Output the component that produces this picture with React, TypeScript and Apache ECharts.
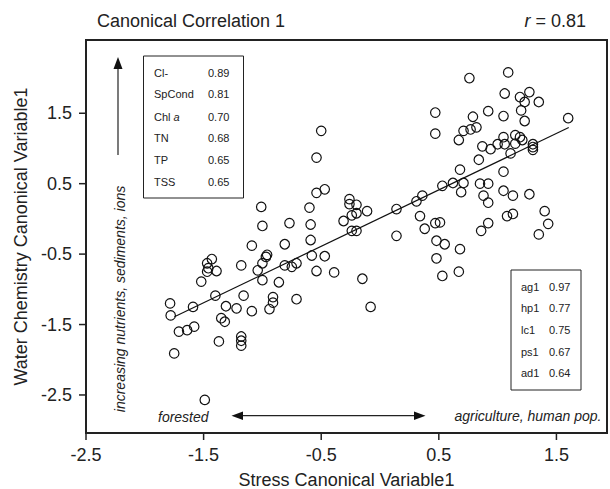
import React, { useEffect, useRef } from "react";
import * as echarts from "echarts";

// Site scores: stress canonical variable 1 (x) and water chemistry canonical variable 1 (y)
const stressScores = [
  -1.785, -1.78, -1.71, -1.64, -1.58, -1.59, -1.75, -1.49, -1.52, -1.47, -1.46, -1.43, -1.47, -1.39, -1.4,
  -1.37, -1.35, -1.32, -1.31, -1.22, -1.18, -1.18, -1.18, -1.18, -1.16, -1.09, -1.09, -1.04, -1.01, -1.0,
  -1.0, -0.97, -0.96, -1.0, -0.91, -0.91, -0.94, -0.86, -0.81, -0.77, -0.81, -0.75, -0.71, -0.71,
  0.76, 1.09, 1.06, 1.19, 1.27, 1.23, 1.35, 1.2, 1.23, 1.05, 0.92, 0.79, 0.47, 0.47, 0.71, 0.77, 0.82, 0.67,
  1.6, 0.87, 0.94, 1.0, 1.05, 1.06, 1.15, 1.15, 1.19, 1.21, 1.3, 1.3, 1.3, 1.11, 0.84, 0.68, 1.05, 0.53,
  0.62, 0.71, 0.69, 0.85, 0.92, 0.88, 0.92, 1.05, 1.13, 1.27, 1.08, 1.13, 1.4, 1.43, 1.35, 0.92, 0.86,
  0.68, 0.67, 0.53, 0.48, 0.48, 0.55, 0.47, 0.51, 0.34, 0.38, 0.31, 0.36, 0.14, 0.14, -0.11, -0.2, -0.26,
  -0.26, -0.2, -0.24, -0.31, -0.24, -0.2, -0.47, -0.54, -0.5, -0.54, -0.6, -0.59, -0.59, -0.58, -0.47,
  -0.54, -0.39, -0.15, -0.08,
];
const waterScores = [
  -1.2, -1.37, -1.6, -1.58, -1.53, -1.25, -1.91, -2.57, -0.89, -0.63, -0.7, -0.57, -0.75, -0.74, -1.09,
  -1.74, -1.41, -1.46, -1.24, -1.27, -0.66, -1.67, -1.73, -1.8, -1.09, -1.31, -0.38, -0.73, 0.17, -0.1,
  -0.63, -0.54, -0.51, -0.87, -1.11, -1.19, -1.28, -0.9, -0.36, -0.06, -0.66, -0.68, -0.63, -1.14,
  2.0, 2.08, 1.78, 1.73, 1.8, 1.66, 1.66, 1.54, 1.39, 1.46, 1.53, 1.45, 1.51, 1.21, 1.25, 1.27, 1.3, 1.12,
  1.43, 1.03, 0.99, 1.06, 1.16, 1.06, 1.19, 1.07, 1.16, 1.12, 1.06, 1.02, 0.98, 0.93, 0.84, 0.7, 0.67, 0.47,
  0.51, 0.51, 0.38, 0.5, 0.5, 0.33, 0.23, 0.4, 0.33, 0.35, 0.04, 0.07, 0.11, -0.07, -0.22, -0.06, -0.17,
  -0.43, -0.75, -0.81, -0.56, -0.31, -0.36, -0.06, -0.05, 0.04, -0.14, 0.25, 0.33, 0.14, -0.24, 0.11, 0.2, 0.28,
  0.21, 0.08, 0.05, -0.03, -0.17, -0.17, 0.42, 0.37, 1.25, 0.87, 0.16, -0.08, -0.3, -0.52, -0.53,
  -0.74, -0.76, -0.85, -1.25,
];

// Fitted regression line end points
const fitX = [-1.748, 1.605];
const fitY = [-1.389, 1.297];

// Axis extents and tick labels
const xRange = [-2.5, 1.93];
const yRange = [-3.04, 2.54];
const xTicks = [-2.5, -1.5, -0.5, 0.5, 1.5];
const yTicks = [-2.5, -1.5, -0.5, 0.5, 1.5];

// Loadings
const waterVars = ["Cl-", "SpCond", "{n|Chl }{i|a}", "TN", "TP", "TSS"];
const waterLoadings = ["0.89", "0.81", "0.70", "0.68", "0.65", "0.65"];
const stressVars = ["ag1", "hp1", "lc1", "ps1", "ad1"];
const stressLoadings = ["0.97", "0.77", "0.75", "0.67", "0.64"];

const FONT = "'Liberation Sans', Arial, Helvetica, sans-serif";
const INK = "#222";

export default function App() {
  const ref = useRef<HTMLDivElement>(null);

  useEffect(() => {
    if (!ref.current) return;
    const chart = echarts.init(ref.current, undefined, { renderer: "svg" });

    const points = stressScores.map((x, i) => [x, waterScores[i]]);
    const fit = fitX.map((x, i) => [x, fitY[i]]);

    const boxText = (text: string, x: number, y: number) => ({
      type: "text",
      x,
      y,
      silent: true,
      style: {
        text,
        fontSize: 11,
        fontFamily: FONT,
        fill: INK,
        verticalAlign: "middle",
        align: "left",
        rich: {
          n: { fontSize: 11, fontFamily: FONT, fill: INK },
          i: { fontSize: 11, fontFamily: FONT, fill: INK, fontStyle: "italic" },
        },
      },
    });

    const box1Rows = [72.7, 94.3, 116.5, 138.3, 160, 181.7];
    const box2Rows = [286.7, 308.3, 330, 351.7, 373.3];

    const graphics: any[] = [
      {
        type: "text",
        x: 97,
        y: 21,
        style: { text: "Canonical Correlation 1", fontSize: 18, fontFamily: FONT, fill: INK, verticalAlign: "middle", align: "left" },
      },
      {
        type: "text",
        x: 586,
        y: 21,
        style: {
          text: "{i|r} = 0.81",
          fontSize: 18,
          fontFamily: FONT,
          fill: INK,
          verticalAlign: "middle",
          align: "right",
          rich: {
            i: { fontSize: 18, fontFamily: FONT, fill: INK, fontStyle: "italic" },
          },
        },
      },
      // box 1
      { type: "rect", shape: { x: 143.5, y: 56, width: 100, height: 142 }, style: { fill: "none", stroke: INK, lineWidth: 1 } },
      ...waterVars.map((t, i) => boxText(t, 154, box1Rows[i])),
      ...waterLoadings.map((t, i) => boxText(t, 208, box1Rows[i])),
      // box 2
      { type: "rect", shape: { x: 511, y: 270, width: 70, height: 120 }, style: { fill: "none", stroke: INK, lineWidth: 1 } },
      ...stressVars.map((t, i) => boxText(t, 521, box2Rows[i])),
      ...stressLoadings.map((t, i) => boxText(t, 549, box2Rows[i])),
      // vertical arrow
      { type: "line", shape: { x1: 118, y1: 155, x2: 118, y2: 66 }, style: { stroke: INK, lineWidth: 1.2 } },
      { type: "polygon", shape: { points: [[118, 57], [113.5, 69], [122.5, 69]] }, style: { fill: "#111" } },
      {
        type: "text",
        x: 120,
        y: 299,
        rotation: Math.PI / 2,
        style: {
          text: "increasing nutrients, sediments, ions",
          fontSize: 14,
          fontStyle: "italic",
          fontFamily: FONT,
          fill: INK,
          align: "center",
          verticalAlign: "middle",
        },
      },
      // horizontal arrow
      { type: "line", shape: { x1: 240, y1: 415.7, x2: 417, y2: 415.7 }, style: { stroke: INK, lineWidth: 1.2 } },
      { type: "polygon", shape: { points: [[231.5, 415.7], [243, 411.5], [243, 420]] }, style: { fill: "#111" } },
      { type: "polygon", shape: { points: [[425.5, 415.7], [414, 411.5], [414, 420]] }, style: { fill: "#111" } },
      {
        type: "text",
        x: 158,
        y: 416.5,
        style: { text: "forested", fontSize: 14, fontStyle: "italic", fontFamily: FONT, fill: INK, align: "left", verticalAlign: "middle" },
      },
      {
        type: "text",
        x: 601.5,
        y: 415.5,
        style: { text: "agriculture, human pop.", fontSize: 14, fontStyle: "italic", fontFamily: FONT, fill: INK, align: "right", verticalAlign: "middle" },
      },
    ];

    chart.setOption({
      animation: false,
      backgroundColor: "#fff",
      grid: {
        left: 86,
        top: 40,
        right: 3,
        bottom: 56,
        containLabel: false,
        outerBoundsMode: "none",
        show: true,
        borderColor: INK,
        borderWidth: 2,
        backgroundColor: "transparent",
      },
      xAxis: {
        type: "value",
        min: xRange[0],
        max: xRange[1],
        axisLine: { show: true, onZero: false, lineStyle: { color: INK, width: 2 } },
        splitLine: { show: false },
        axisTick: { show: false },
        axisLabel: {
          customValues: xTicks,
          margin: 13,
          fontSize: 18,
          color: INK,
          fontFamily: FONT,
          formatter: (v: number) => String(v),
        },
        name: "Stress Canonical Variable1",
        nameLocation: "middle",
        nameGap: 38,
        nameTextStyle: { fontSize: 18, color: INK, fontFamily: FONT },
      },
      yAxis: {
        type: "value",
        min: yRange[0],
        max: yRange[1],
        axisLine: { show: true, onZero: false, lineStyle: { color: INK, width: 2 } },
        splitLine: { show: false },
        axisTick: { show: false },
        axisLabel: {
          customValues: yTicks,
          margin: 14,
          fontSize: 18,
          color: INK,
          fontFamily: FONT,
          formatter: (v: number) => String(v),
        },
        name: "Water Chemistry Canonical Variable1",
        nameLocation: "middle",
        nameGap: 56,
        nameTextStyle: { fontSize: 18, color: INK, fontFamily: FONT },
      },
      series: [
        {
          type: "scatter",
          data: points,
          symbol: "circle",
          symbolSize: 9.5,
          itemStyle: { color: "transparent", borderColor: "#111", borderWidth: 1.2, opacity: 1 },
          silent: true,
          z: 3,
        },
        {
          type: "line",
          data: fit,
          showSymbol: false,
          symbol: "none",
          lineStyle: { color: "#111", width: 1.2 },
          silent: true,
          z: 2,
        },
      ],
      graphic: graphics,
    });

    // Tick marks placed through the chart's own scales
    const ticks: any[] = [];
    xTicks.forEach((v) => {
      const p = chart.convertToPixel({ gridIndex: 0 }, [v, yRange[0]]) as number[];
      ticks.push({ type: "line", shape: { x1: p[0], y1: p[1] + 1, x2: p[0], y2: p[1] + 7 }, style: { stroke: INK, lineWidth: 1.5 } });
    });
    yTicks.forEach((v) => {
      const p = chart.convertToPixel({ gridIndex: 0 }, [xRange[0], v]) as number[];
      ticks.push({ type: "line", shape: { x1: p[0] - 7, y1: p[1], x2: p[0] - 1, y2: p[1] }, style: { stroke: INK, lineWidth: 1.5 } });
    });
    chart.setOption({ graphic: [...graphics, ...ticks] });

    return () => chart.dispose();
  }, []);

  return <div ref={ref} style={{ position: "fixed", left: 0, top: 0, width: 610, height: 489 }} />;
}
